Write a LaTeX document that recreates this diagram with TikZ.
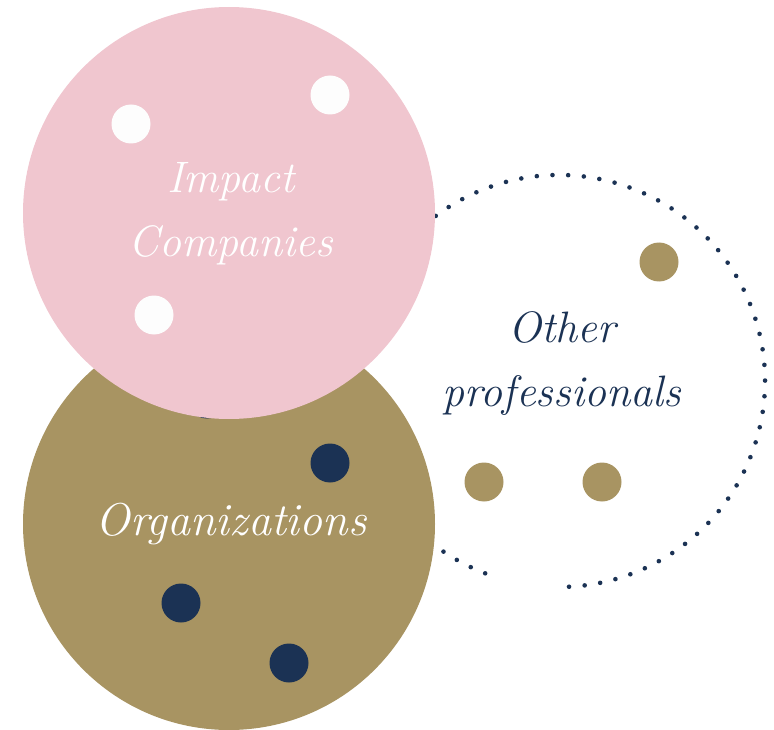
\documentclass[tikz,border=0pt]{standalone}
\definecolor{pinkc}{HTML}{F0C6CF}
\definecolor{olivec}{HTML}{A89462}
\definecolor{navyc}{HTML}{1B3254}
\definecolor{whitec}{HTML}{FDFDFD}
\tikzset{
  bigcirc/.style={circle, minimum size=412pt, inner sep=0pt, draw=none},
  spot/.style={circle, minimum size=39pt, inner sep=0pt, draw=none},
  label/.style={align=center, font=\fontsize{44}{64}\selectfont\itshape},
  dotline/.style={navyc, line width=4.6pt, line cap=round, dash pattern=on 0pt off 15.7pt}
}
\begin{document}
\begin{tikzpicture}[x=1pt,y=-1pt]
\useasboundingbox (0,0) rectangle (774,730);
% dotted circle
\coordinate (oc) at (559,381);
\draw[dotline] (oc) ++(111:206) arc[start angle=111, end angle=449, radius=206];
% organizations circle
\node[bigcirc, fill=olivec] (org) at (229,524) {};
\node[spot, fill=navyc] (o0) at (207,399) {};
\node[spot, fill=navyc] (o1) at (330,463) {};
\node[spot, fill=navyc] (o2) at (181,603) {};
\node[spot, fill=navyc] (o3) at (289,663) {};
% impact companies circle
\node[bigcirc, fill=pinkc] (imp) at (229,213) {};
\node[spot, fill=whitec] (w1) at (131,124) {};
\node[spot, fill=whitec] (w2) at (330,95) {};
\node[spot, fill=whitec] (w3) at (154,315) {};
% other professionals spots
\node[spot, fill=olivec] (p1) at (659,262) {};
\node[spot, fill=olivec] (p2) at (484,482) {};
\node[spot, fill=olivec] (p3) at (602,482) {};
% texts
\node[label, text=white] (timp) at (231,214) {Impact\\Companies};
\node[label, text=white, font=\fontsize{46}{64}\selectfont\itshape] (torg) at (231,524) {Organizations};
\node[label, text=navyc] (toth) at (562,363) {Other\\professionals};
\end{tikzpicture}
\end{document}
